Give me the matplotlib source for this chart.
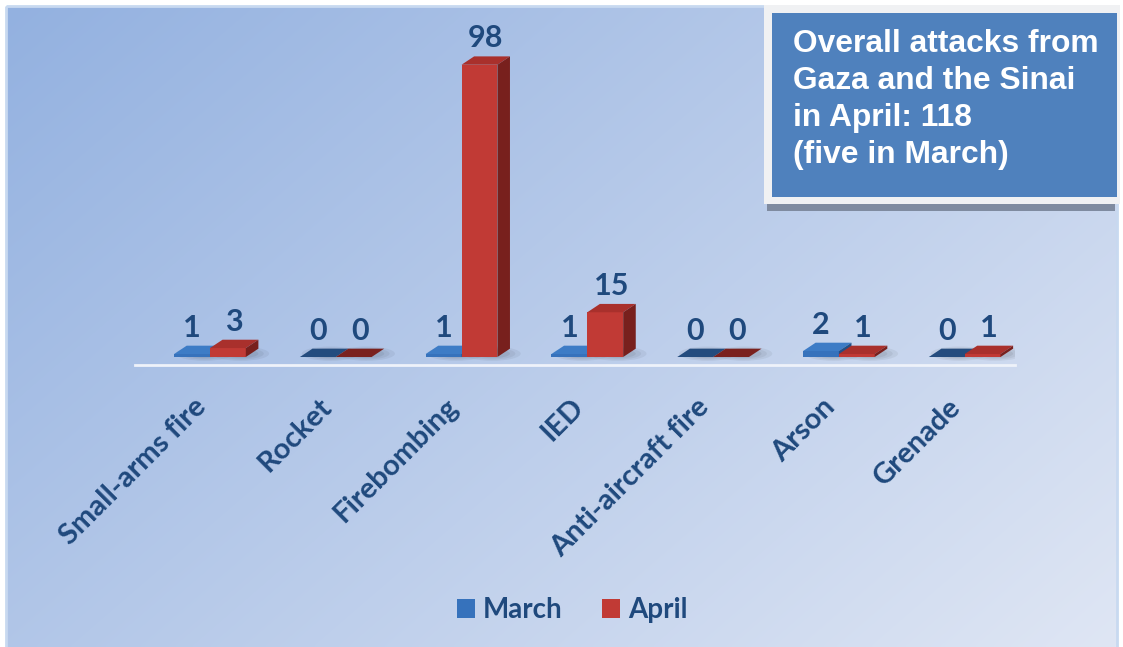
import matplotlib.pyplot as plt
import matplotlib.transforms as mtransforms
import numpy as np
from matplotlib.patches import Polygon, Rectangle, Ellipse

# data
categories = ['Small-arms fire', 'Rocket', 'Firebombing', 'IED',
              'Anti-aircraft fire', 'Arson', 'Grenade']
march = [1, 0, 1, 1, 0, 2, 0]
april = [3, 0, 98, 15, 0, 1, 1]
series_names = ['March', 'April']
box_text = 'Overall attacks from\nGaza and the Sinai\nin April: 118\n(five in March)'

W, H = 1123, 647
txt_color = '#1F497D'
plt.rcParams['font.family'] = ['Lato', 'DejaVu Sans']

fig = plt.figure(figsize=(W / 100, H / 100), dpi=100)

# verlaufender Hintergrund
bg = fig.add_axes([0, 0, 1, 1], zorder=0)
bg.set_xlim(0, W)
bg.set_ylim(H, 0)
bg.axis('off')
gx, gy = np.meshgrid(np.linspace(0, 1, 300), np.linspace(0, 1, 200))
t = gx * 0.6 + gy * 0.4
c0 = np.array([147, 177, 224]) / 255
c1 = np.array([223, 230, 244]) / 255
img = c0 + (c1 - c0) * t[..., None]
bg.imshow(img, extent=(7, 1117, 647, 7), aspect='auto', interpolation='bilinear')
bg.add_patch(Rectangle((6, 6), 1111, 660, fill=False, ec='#C8D9F0', lw=2))

# Hauptachse
ax = fig.add_axes([135 / W, (H - 365) / H, 880 / W, 345 / H], zorder=1)
ax.set_facecolor('none')
ax.set_xlim(-0.596, 6.40)
ax.set_ylim(-2.68, 113)
for s in ['top', 'left', 'right']:
    ax.spines[s].set_visible(False)
ax.spines['bottom'].set_color('#EEF2FA')
ax.spines['bottom'].set_linewidth(2)
ax.set_yticks([])

x = np.arange(len(categories))
bw = 0.285
dx, dy = 0.1, 2.8

styles = [
    dict(front='#3672BC', top='#3D7CC6', side='#234F86', flat='#244C7E'),
    dict(front='#C13A35', top='#A9302C', side='#78201D', flat='#7A211E'),
]

handles = []
for k, (vals, name, st) in enumerate(zip([march, april], series_names, styles)):
    left = x - bw + k * bw
    # weicher Schatten
    for xl in left:
        for a, sc in [(0.05, 1.6), (0.05, 1.3), (0.06, 1.0)]:
            ax.add_patch(Ellipse((xl + bw / 2 + dx, dy * 0.4), bw * sc, 3.0 * sc,
                                 color='black', alpha=a, lw=0, zorder=2))
    bars = ax.bar(left, vals, bw, align='edge', color=st['front'], label=name,
                  zorder=3 + k, lw=0)
    handles.append(bars)
    for xl, v in zip(left, vals):
        xr = xl + bw
        topc = st['flat'] if v == 0 else st['top']
        ax.add_patch(Polygon([(xl, v), (xl + dx, v + dy), (xr + dx, v + dy), (xr, v)],
                             closed=True, color=topc, lw=0, zorder=3 + k))
        ax.add_patch(Polygon([(xr, 0), (xr + dx, dy), (xr + dx, v + dy), (xr, v)],
                             closed=True, color=st['side'], lw=0, zorder=3 + k))
        ax.annotate(str(v), (xl + bw / 2 + k * dx / 2, v + dy), xytext=(0, 13),
                    textcoords='offset points', ha='center', va='center',
                    fontsize=22, fontweight='bold', color=txt_color, zorder=6)

ax.set_xticks(x)
ax.set_xticklabels(categories, rotation=45, ha='right', rotation_mode='anchor',
                   fontsize=21, fontweight='bold', color=txt_color)
ax.tick_params(axis='x', length=0, pad=14)
shift = mtransforms.ScaledTranslation(-0.17, -0.09, fig.dpi_scale_trans)
for lab in ax.get_xticklabels():
    lab.set_transform(lab.get_transform() + shift)

ax.legend(handles=handles, loc='center', bbox_to_anchor=(572 / W, (H - 610) / H),
          bbox_transform=fig.transFigure, ncol=2, frameon=False,
          prop=dict(size=20, weight='bold'), labelcolor=txt_color,
          handlelength=0.65, handleheight=0.65, handletextpad=0.3,
          columnspacing=1.4)

# Textkasten oben rechts
ov = fig.add_axes([0, 0, 1, 1], zorder=2)
ov.set_xlim(0, W)
ov.set_ylim(H, 0)
ov.axis('off')
ov.add_patch(Rectangle((767, 197), 348, 14, color='#7F8BA0', lw=0))
ov.add_patch(Rectangle((764, 5), 356, 199, color='#F0F1F3', lw=0))
ov.add_patch(Rectangle((772, 13), 345, 184, color='#4F81BD', lw=0))
ov.text(793, 29, box_text, ha='left', va='top', color='white',
        fontsize=22.9, fontweight='bold', family='Liberation Sans',
        linespacing=1.31)

fig.savefig('out.png', dpi=100)
